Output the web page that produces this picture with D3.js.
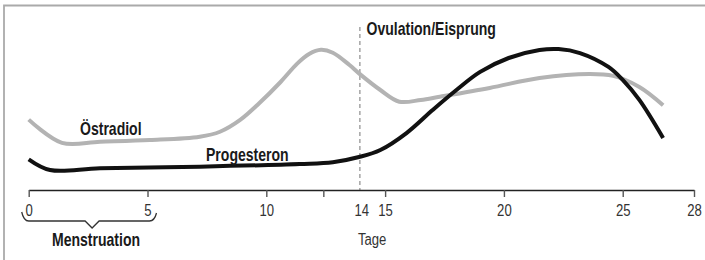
<!DOCTYPE html>
<html>
<head>
<meta charset="utf-8">
<script src="https://cdn.jsdelivr.net/npm/d3@7"></script>
<style>
  html, body { margin: 0; padding: 0; background: #fff; }
  svg { display: block; }
  svg text { font-family: "Liberation Sans", Arial, sans-serif; }
</style>
</head>
<body>
<svg id="chart"></svg>
<script>
// Zyklustage und relative Hormonspiegel
const oestradiolDays = [0, 1.4, 3, 5.1, 7.2, 8.05, 8.9, 9.7, 10.6, 11.3, 11.8, 12.3, 12.8, 13.5, 13.9, 14.8, 15.6, 16.5, 17.3, 19.4, 21.5, 23.6, 24.6, 25.7, 26.7];
const oestradiolLevel = [44, 29.5, 30.2, 31.2, 33.3, 36.4, 43.8, 54.2, 67.5, 79, 85, 87.6, 85.8, 78.1, 72.9, 62.5, 55.2, 56.3, 58.3, 63.8, 70, 72.5, 71.3, 64.4, 53];

const progesteronDays = [0, 0.9, 3, 7.2, 11.4, 12.8, 13.9, 14.8, 15.9, 17, 18, 19, 20.2, 21.5, 22.3, 23.2, 24.4, 25, 25.7, 26.7];
const progesteronLevel = [19.2, 12.5, 13.6, 14.6, 16.2, 17.3, 20.6, 25, 35.6, 50, 62.5, 73.8, 82.5, 87.5, 88.1, 85.6, 76.9, 68.8, 56.3, 32.5];

const tickDays = [0, 5, 10, 12.4, 14, 15, 20, 25, 28];
const tickLabels = ["0", "5", "10", "", "14", "15", "20", "25", "28"];
const ovulationDay = 14;
const menstruation = [0, 5];

const width = 705, height = 260;

const svg = d3.select("#chart").attr("width", width).attr("height", height);

const x = d3.scaleLinear().domain([0, 28]).range([28.7, 694]);
const y = d3.scaleLinear().domain([0, 100]).range([190, 30]);

// small helper: condensed text placed at (tx, ty), no narrow font installed
function label(tx, ty, str, opts = {}) {
  const sx = opts.bold ? 0.78 : 0.82;
  const g = svg.append("g").attr("transform", `translate(${tx},${ty}) scale(${sx},1)`);
  return g.append("text")
    .attr("text-anchor", opts.anchor || "start")
    .attr("font-size", opts.size || 18)
    .attr("font-weight", opts.bold ? "bold" : "normal")
    .attr("fill", opts.fill || "#1a1a1a")
    .text(str);
}

// Rahmen (oben und links)
svg.append("path")
  .attr("d", `M4,${height} L4,5.5 L${width},5.5`)
  .attr("fill", "none")
  .attr("stroke", "#aaa")
  .attr("stroke-width", 1.8);

// Ovulation line
svg.append("line")
  .attr("x1", x(ovulationDay) - 1.5).attr("x2", x(ovulationDay) - 1.5)
  .attr("y1", 27).attr("y2", y(0))
  .attr("stroke", "#aaa")
  .attr("stroke-width", 1.6)
  .attr("stroke-dasharray", "4,3");

label(366.5, 35, "Ovulation/Eisprung", { bold: true });

// Achse
const xAxis = d3.axisBottom(x)
  .tickValues(tickDays)
  .tickFormat((d, i) => tickLabels[i])
  .tickSize(7)
  .tickSizeOuter(0)
  .tickPadding(8);

const axisG = svg.append("g")
  .attr("transform", `translate(0,${y(0)})`)
  .call(xAxis);
axisG.attr("font-family", null).attr("font-size", 16);
axisG.select(".domain").attr("stroke", "#222").attr("stroke-width", 1.4);
axisG.selectAll(".tick line").attr("stroke", "#555").attr("stroke-width", 1.4);
axisG.selectAll(".tick").filter(d => d === ovulationDay).select("line").remove();
axisG.selectAll(".tick text")
  .attr("fill", "#333")
  .attr("transform", "scale(0.82,1)");

label(x(15) - 13, 245, "Tage", { size: 16, anchor: "middle", fill: "#333" });

// Menstruation bracket
const bx0 = x(menstruation[0]) - 7, bx1 = x(menstruation[1]) + 9;
const bmid = (bx0 + bx1) / 2 + 3;
const bp = d3.path();
bp.moveTo(bx0, 212);
bp.quadraticCurveTo(bx0 + 2, 221, bx0 + 7, 221);
bp.lineTo(bmid - 7, 221);
bp.lineTo(bmid, 228);
bp.lineTo(bmid + 7, 221);
bp.lineTo(bx1 - 7, 221);
bp.quadraticCurveTo(bx1 - 2, 221, bx1, 213);
svg.append("path")
  .attr("d", bp.toString())
  .attr("fill", "none")
  .attr("stroke", "#333")
  .attr("stroke-width", 1.3);

label(96, 246, "Menstruation", { bold: true, anchor: "middle" });

// Kurven
const line = d3.line()
  .x(d => x(d[0]))
  .y(d => y(d[1]))
  .curve(d3.curveCatmullRom.alpha(0.5));

svg.append("path")
  .datum(d3.zip(oestradiolDays, oestradiolLevel))
  .attr("d", line)
  .attr("fill", "none")
  .attr("stroke", "#b3b3b3")
  .attr("stroke-width", 4)
  .attr("stroke-linejoin", "round");

svg.append("path")
  .datum(d3.zip(progesteronDays, progesteronLevel))
  .attr("d", line)
  .attr("fill", "none")
  .attr("stroke", "#111")
  .attr("stroke-width", 4)
  .attr("stroke-linejoin", "round");

label(80, 135, "Östradiol", { bold: true });
label(206, 161, "Progesteron", { bold: true });
</script>
</body>
</html>
